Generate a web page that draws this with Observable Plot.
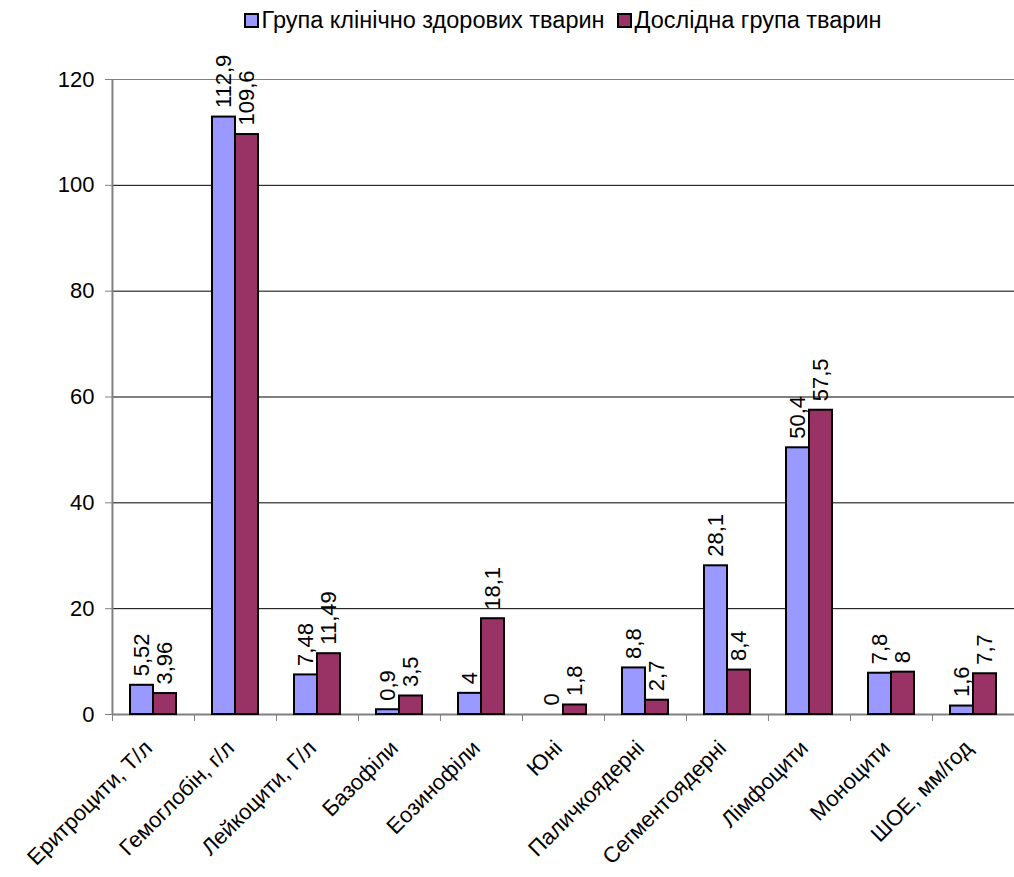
<!DOCTYPE html>
<html>
<head>
<meta charset="utf-8">
<script src="https://cdn.jsdelivr.net/npm/d3@7"></script>
<script src="https://cdn.jsdelivr.net/npm/@observablehq/plot@0.6"></script>
<style>
  html, body { margin: 0; padding: 0; background: #fff; }
  body { width: 1014px; height: 877px; overflow: hidden; font-family: "Liberation Sans", Arial, sans-serif; }
  #legend {
    height: 40px; margin-left: 111px; width: 903px;
    display: flex; justify-content: center; align-items: center;
    font-size: 23.5px; color: #000;
  }
  .item { display: flex; align-items: center; margin: 0 6px; }
  .swatch { width: 11px; height: 11px; border: 2px solid #000; margin-right: 3px; }
</style>
</head>
<body>
<div id="legend"></div>
<div id="chart"></div>
<script>
// Показники крові: категорії та значення двох груп тварин
const categories = [
  "Еритроцити, Т/л", "Гемоглобін, г/л", "Лейкоцити, Г/л", "Базофіли", "Еозинофіли",
  "Юні", "Паличкоядерні", "Сегментоядерні", "Лімфоцити", "Моноцити", "ШОЕ, мм/год"
];
const groups = ["Група клінічно здорових тварин", "Дослідна група тварин"];
const healthy      = [5.52, 112.9, 7.48, 0.9, 4, 0, 8.8, 28.1, 50.4, 7.8, 1.6];
const experimental = [3.96, 109.6, 11.49, 3.5, 18.1, 1.8, 2.7, 8.4, 57.5, 8, 7.7];
const yTicks = [0, 20, 40, 60, 80, 100, 120];
const colors = ["#9999FF", "#993366"];

const rows = categories.flatMap((c, i) => [
  {category: c, group: groups[0], value: healthy[i]},
  {category: c, group: groups[1], value: experimental[i]}
]);
const fmt = v => String(v).replace(".", ",");

// Легенда
const legend = document.getElementById("legend");
groups.forEach((g, i) => {
  const item = document.createElement("div");
  item.className = "item";
  item.innerHTML = `<span class="swatch" style="background:${colors[i]}"></span><span>${g}</span>`;
  legend.appendChild(item);
});

const width = 1014, marginLeft = 111, marginRight = 0;
const step = (width - marginLeft - marginRight) / categories.length;
const grey = "#808080";

const chart = Plot.plot({
  width, height: 837,
  marginTop: 39, marginBottom: 163, marginLeft, marginRight,
  style: {fontFamily: "'Liberation Sans', Arial, sans-serif", fontSize: "22px", color: "#000", background: "#fff"},
  fx: {domain: categories, paddingInner: 0, paddingOuter: 0, label: null, axis: null},
  x: {domain: groups, paddingInner: 0, paddingOuter: 0.724, axis: null},
  y: {domain: [0, 120], axis: null},
  color: {domain: groups, range: colors},
  marks: [
    Plot.ruleY(yTicks.filter(t => t > 0 && t < 120), {stroke: "#000", strokeWidth: 1}),
    Plot.ruleY([120], {stroke: grey, strokeWidth: 1}),
    Plot.ruleY([0], {stroke: grey, strokeWidth: 2}),
    // вертикальна вісь по лівому краю першої категорії
    Plot.gridFx({ticks: [categories[0]], dx: -step / 2, stroke: grey, strokeOpacity: 1, strokeWidth: 2}),
    Plot.axisY({ticks: yTicks, tickSize: 7, tickPadding: 11, fontSize: 22, stroke: grey, fill: "#000", label: null}),
    // поділки між категоріями
    Plot.axisFx({anchor: "bottom", tickSize: 7, tickFormat: () => "", dx: -step / 2, stroke: grey, label: null}),
    Plot.axisFx({anchor: "bottom", tickSize: 0, tickPadding: 30, dx: -5, tickRotate: -45, fontSize: 22, fill: "#000", label: null}),
    Plot.barY(rows, {
      filter: d => d.value > 0,
      fx: "category", x: "group", y: "value",
      fill: "group", stroke: "#000", strokeWidth: 2
    }),
    Plot.text(rows, {
      fx: "category", x: "group", y: "value",
      text: d => fmt(d.value), rotate: -90, textAnchor: "start",
      dy: -9, fontSize: 22, fill: "#000"
    })
  ]
});
document.getElementById("chart").appendChild(chart);
</script>
</body>
</html>
